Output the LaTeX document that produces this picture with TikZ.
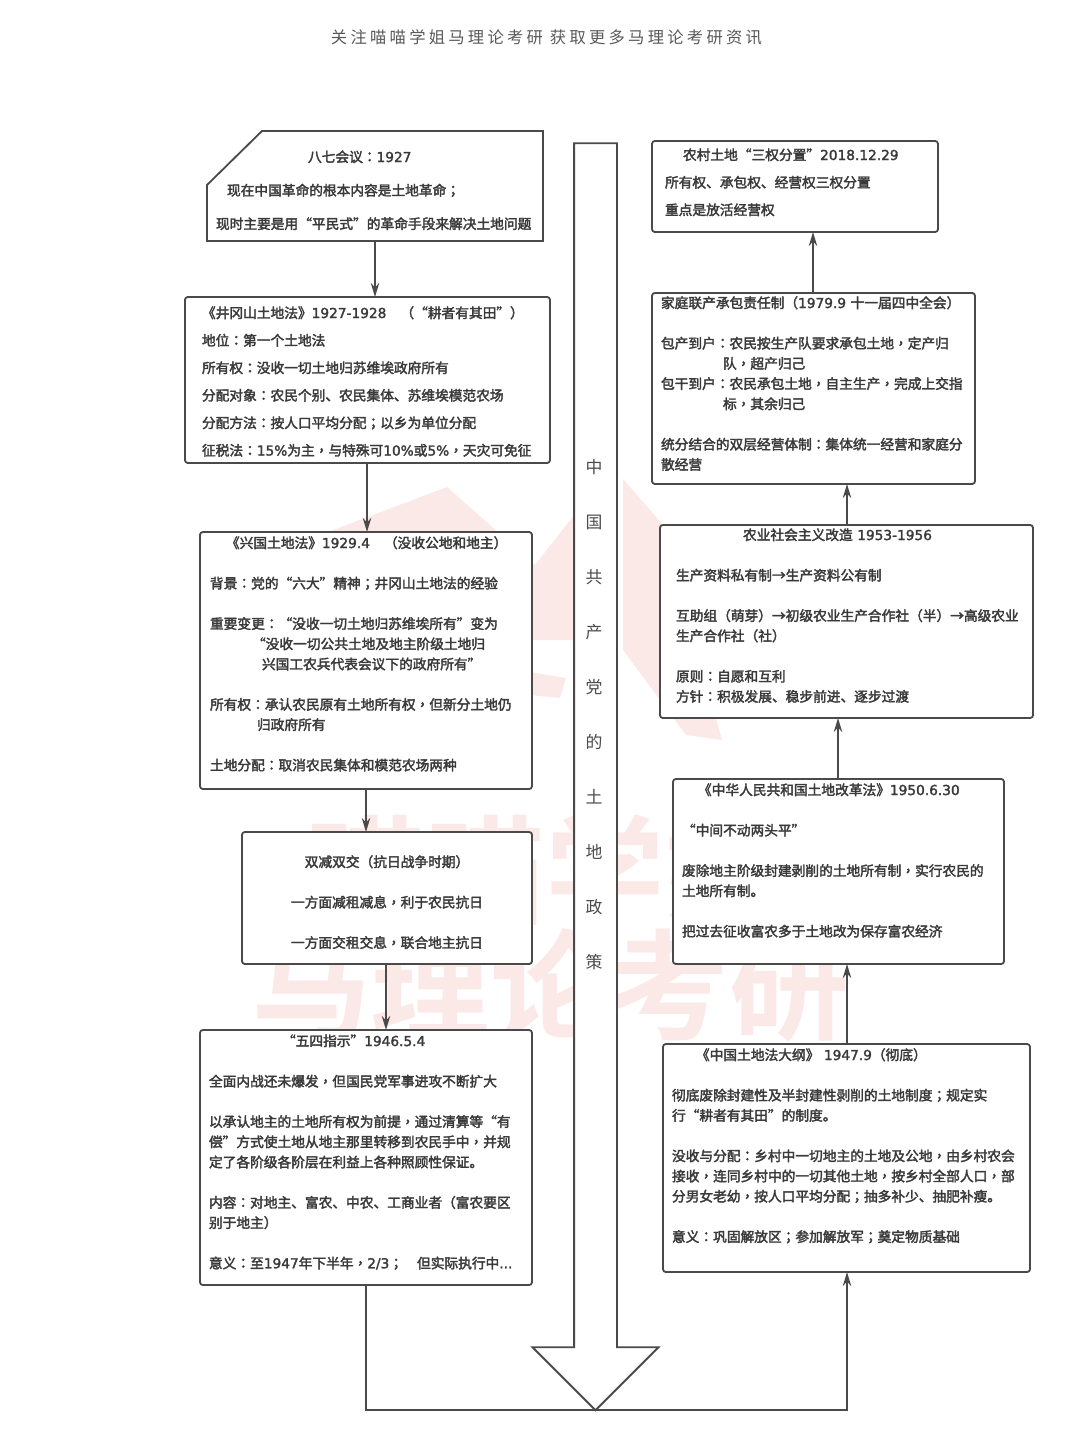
\documentclass[tikz,border=0pt]{standalone}
\usepackage{fontspec}
\setmainfont{Noto Sans CJK SC}[FakeBold=2.5]
\newfontfamily\latinfont{DejaVu Sans}[FakeBold=2]
\newfontfamily\puncfont{Noto Sans CJK TC}[FakeBold=2.5]
\newfontfamily\plainfont{Noto Sans CJK SC}
\newfontfamily\headfont{Noto Sans CJK SC}[LetterSpace=20]
\newfontfamily\markfont{Noto Sans CJK SC Bold}
\usepackage{xcolor}
\usepackage{tikz}
\usetikzlibrary{arrows.meta, shapes.arrows}
\newlength\px
\setlength\px{0.025cm}
\newcommand\nm[1]{{\latinfont #1}}
\newcommand\boxfont[1]{\fontsize{9.75pt}{#1pt}\selectfont}
\newcommand\blank{\\[14.37pt]}
\catcode`：=\active \def：{{\puncfont\string：}}
\catcode`；=\active \def；{{\puncfont\string；}}
\catcode`，=\active \def，{{\puncfont\string，}}
\definecolor{linegray}{HTML}{4A4A4A}
\definecolor{textgray}{HTML}{3A3A3A}
\definecolor{pinkmark}{HTML}{FBE9E8}
\tikzset{
    stagebox/.style={
        rectangle,
        draw=linegray,
        line width=1.3pt,
        rounded corners=2pt,
        fill=white,
        text=textgray,
        anchor=north west,
        outer sep=0pt,
        inner ysep=0pt,
        align=left,
        font=\boxfont{14.37}
    },
    wire/.style={
        draw=linegray,
        line width=1.3pt,
        -{Stealth[length=10pt,width=6pt]}
    },
    timeline/.style={
        single arrow,
        draw=linegray,
        line width=1.3pt,
        fill=white,
        shape border rotate=270,
        single arrow tip angle=90,
        single arrow head indent=0pt,
        single arrow head extend=41.5\px,
        minimum height=1267\px,
        minimum width=124\px,
        text width=41\px,
        inner sep=0pt,
        outer sep=0pt
    },
    watermark/.style={
        text=pinkmark,
        font=\fontsize{85pt}{85pt}\markfont,
        inner sep=0pt
    }
}
\begin{document}
\begin{tikzpicture}[x=1\px,y=-1\px]

\useasboundingbox (0,0) rectangle (1080,1440);

\node[text=black!65, font=\fontsize{11.6pt}{14pt}\headfont] (header) at (546.5,37) {关注喵喵学姐马理论考研 获取更多马理论考研资讯};

\fill[pinkmark] (320,535) -- (447,487) -- (535,565) -- (578,510) -- (578,640) -- (530,640) -- (320,640) -- cycle;
\fill[pinkmark] (530,672) -- (566,678) -- (560,698) -- (530,695) -- cycle;
\fill[pinkmark] (623,479) -- (663,525) -- (722,740) -- (686,735) -- (623,650) -- cycle;
\node[watermark] (markb) at (545,870) {喵喵学姐};
\node[watermark] (marka) at (550,985) {马理论考研};

\node[timeline] (bigarrow) at (595.5,766) {};
\node[text=black!70, font=\fontsize{12pt}{39.12pt}\plainfont, anchor=north, align=center, text width=20\px, text height=18\px, text depth=500\px, inner sep=0pt] (arrowtext) at (594,455) {中\\国\\共\\产\\党\\的\\土\\地\\政\\策};

\node[stagebox, draw=none, inner xsep=9\px, text width=318\px, text height=31\px, text depth=79\px, font=\boxfont{23.8}] (baqi) at (207,131) {\hspace*{92\px}八七会议：\nm{1927}\\
\hspace*{11\px}现在中国革命的根本内容是土地革命；\\
现时主要是用“平民式”的革命手段来解决土地问题};
\draw[draw=linegray, line width=1.3pt] (baqi.south west) -- ([yshift=-54\px]baqi.north west) -- ([xshift=55\px]baqi.north west) -- (baqi.north east) -- (baqi.south east) -- cycle;

\node[stagebox, inner xsep=17\px, text width=331\px, text height=21\px, text depth=145\px, font=\boxfont{19.56}] (jinggang) at (185,297) {《井冈山土地法》\nm{1927-1928}\hspace*{14\px}（“耕者有其田”）\\
地位：第一个土地法\\
所有权：没收一切土地归苏维埃政府所有\\
分配对象：农民个别、农民集体、苏维埃模范农场\\
分配方法：按人口平均分配；以乡为单位分配\\
征税法：\nm{15\%}为主，与特殊可\nm{10\%}或\nm{5\%}，天灾可免征};

\node[stagebox, inner xsep=10\px, text width=312\px, text height=16\px, text depth=241\px] (xingguo) at (200,532) {\hspace*{16\px}《兴国土地法》\nm{1929.4}\hspace*{14\px}（没收公地和地主）\blank
背景：党的“六大”精神；井冈山土地法的经验\blank
重要变更：“没收一切土地归苏维埃所有”变为\\
\hspace*{42\px}“没收一切公共土地及地主阶级土地归\\
\hspace*{52\px}兴国工农兵代表会议下的政府所有”\blank
所有权：承认农民原有土地所有权，但新分土地仍\\
\hspace*{47\px}归政府所有\blank
土地分配：取消农民集体和模范农场两种};

\node[stagebox, align=center, inner xsep=0pt, text width=290\px, text height=35\px, text depth=97\px] (shuangjian) at (242,832) {双减双交（抗日战争时期）\blank
一方面减租减息，利于农民抗日\blank
一方面交租交息，联合地主抗日};

\node[stagebox, inner xsep=9\px, text width=314\px, text height=16\px, text depth=239\px] (wusi) at (200,1030) {\hspace*{73\px}“五四指示”\nm{1946.5.4}\blank
全面内战还未爆发，但国民党军事进攻不断扩大\blank
以承认地主的土地所有权为前提，通过清算等“有\\
偿”方式使土地从地主那里转移到农民手中，并规\\
定了各阶级各阶层在利益上各种照顾性保证。\blank
内容：对地主、富农、中农、工商业者（富农要区\\
别于地主）\blank
意义：至\nm{1947}年下半年，\nm{2/3}；\hspace*{14\px}但实际执行中\nm{...}};

\node[stagebox, inner xsep=9\px, text width=349\px, text height=16\px, text depth=212\px] (gangyao) at (663,1044) {\hspace*{24\px}《中国土地法大纲》\nm{ 1947.9}（彻底）\blank
彻底废除封建性及半封建性剥削的土地制度；规定实\\
行“耕者有其田”的制度。\blank
没收与分配：乡村中一切地主的土地及公地，由乡村农会\\
接收，连同乡村中的一切其他土地，按乡村全部人口，部\\
分男女老幼，按人口平均分配；抽多补少、抽肥补瘦。\blank
意义：巩固解放区；参加解放军；奠定物质基础};

\node[stagebox, inner xsep=9\px, text width=313\px, text height=16\px, text depth=169\px] (tugai) at (673,779) {\hspace*{16\px}《中华人民共和国土地改革法》\nm{1950.6.30}\blank
“中间不动两头平”\blank
废除地主阶级封建剥削的土地所有制，实行农民的\\
土地所有制。\blank
把过去征收富农多于土地改为保存富农经济};

\node[stagebox, inner xsep=16\px, text width=341\px, text height=15\px, text depth=178\px] (gaizao) at (660,525) {\hspace*{67\px}农业社会主义改造 \nm{1953-1956}\blank
生产资料私有制→生产资料公有制\blank
互助组（萌芽）→初级农业生产合作社（半）→高级农业\\
生产合作社（社）\blank
原则：自愿和互利\\
方针：积极发展、稳步前进、逐步过渡};

\node[stagebox, inner xsep=9\px, text width=305\px, text height=15\px, text depth=176\px] (lianchan) at (652,293) {家庭联产承包责任制（\nm{1979.9} 十一届四中全会）\blank
包产到户：农民按生产队要求承包土地，定产归\\
\hspace*{62\px}队，超产归己\\
包干到户：农民承包土地，自主生产，完成上交指\\
\hspace*{62\px}标，其余归己\blank
统分结合的双层经营体制：集体统一经营和家庭分\\
散经营};

\node[stagebox, inner xsep=13\px, text width=260\px, text height=19\px, text depth=72\px, font=\boxfont{19.56}] (sanquan) at (652,141) {\hspace*{18\px}农村土地“三权分置”\nm{2018.12.29}\\
所有权、承包权、经营权三权分置\\
重点是放活经营权};

\draw[wire] (375,0 |- baqi.south) -- (375,0 |- jinggang.north);
\draw[wire] (367,0 |- jinggang.south) -- (367,0 |- xingguo.north);
\draw[wire] (366,0 |- xingguo.south) -- (366,0 |- shuangjian.north);
\draw[wire] (386,0 |- shuangjian.south) -- (386,0 |- wusi.north);
\draw[wire] (366,0 |- wusi.south) -- (366,0 |- bigarrow.tip) -- (847,0 |- bigarrow.tip) -- (847,0 |- gangyao.south);
\draw[wire] (847,0 |- gangyao.north) -- (847,0 |- tugai.south);
\draw[wire] (838,0 |- tugai.north) -- (838,0 |- gaizao.south);
\draw[wire] (847,0 |- gaizao.north) -- (847,0 |- lianchan.south);
\draw[wire] (813,0 |- lianchan.north) -- (813,0 |- sanquan.south);

\end{tikzpicture}
\end{document}
